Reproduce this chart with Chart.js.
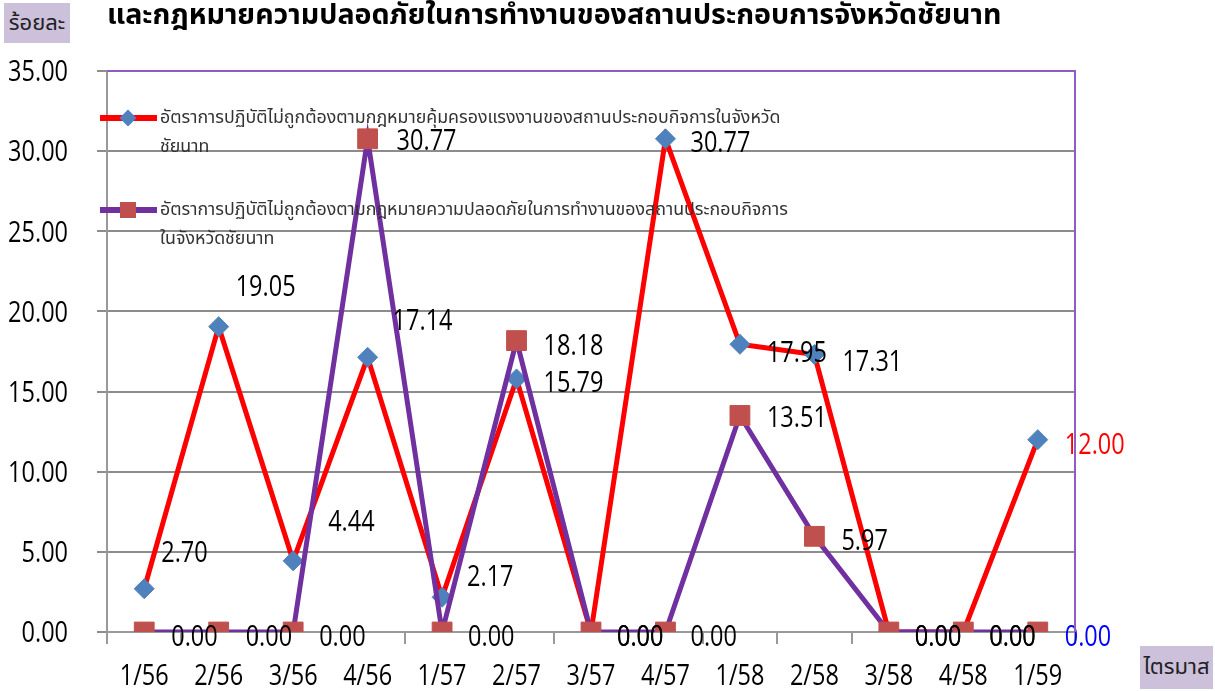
<!DOCTYPE html>
<html>
<head>
<meta charset="utf-8">
<script src="https://cdn.jsdelivr.net/npm/chart.js@4.4.0/dist/chart.umd.min.js"></script>
<style>
  body { margin: 0; background: #fff; }
  #wrap { position: relative; width: 1215px; height: 691px; overflow: hidden; font-family: "Noto Sans Thai", "Noto Sans", "DejaVu Sans", sans-serif; }
  #chart { position: absolute; left: 0; top: 0; }
  .title { position: absolute; left: 107px; top: -6px; font-size: 28.6px; font-weight: bold; color: #000; white-space: nowrap; }
  .tag { position: absolute; background: #ccc0da; color: #222; font-size: 22px; display: flex; align-items: center; justify-content: center; }
  .legend { position: absolute; left: 100px; font-size: 17.8px; color: #333; line-height: 29px; }
  .legend .item { position: relative; padding-left: 60px; margin-bottom: 34px; }
  .legend .line { position: absolute; left: 0; top: 12px; width: 57px; height: 6px; }
  .legend .mark { position: absolute; }
</style>
</head>
<body>
<div id="wrap">
  <canvas id="chart" width="1215" height="691"></canvas>
  <div class="title" id="title"></div>
  <div class="tag" id="yTag" style="left:4px;top:3px;width:66px;height:40px;"></div>
  <div class="tag" id="xTag" style="left:1140px;top:646px;width:73px;height:43px;"></div>
  <div class="legend" id="legend" style="top:103px;"></div>
</div>
<script>
// ---- data ----
const quarters = ["1/56", "2/56", "3/56", "4/56", "1/57", "2/57", "3/57", "4/57", "1/58", "2/58", "3/58", "4/58", "1/59"];
const labourRate = [2.70, 19.05, 4.44, 17.14, 2.17, 15.79, 0.00, 30.77, 17.95, 17.31, 0.00, 0.00, 12.00];
const safetyRate = [0.00, 0.00, 0.00, 30.77, 0.00, 18.18, 0.00, 0.00, 13.51, 5.97, 0.00, 0.00, 0.00];
const labourLabel = ["อัตราการปฏิบัติไม่ถูกต้องตามกฎหมายคุ้มครองแรงงานของสถานประกอบกิจการในจังหวัด", "ชัยนาท"];
const safetyLabel = ["อัตราการปฏิบัติไม่ถูกต้องตามกฎหมายความปลอดภัยในการทำงานของสถานประกอบกิจการ", "ในจังหวัดชัยนาท"];
const titleText = "และกฎหมายความปลอดภัยในการทำงานของสถานประกอบการจังหวัดชัยนาท";
const yTitle = "ร้อยละ";
const xTitle = "ไตรมาส";
const yMin = 0, yMax = 35, yStep = 5;

// ---- styles ----
const numFont = '29px "Open Sans", "Noto Sans", sans-serif';
const squeeze = 0.81; // numbers in the original are a narrow face
const red = "#ff0000", purple = "#7030a0", blue = "#4f81bd", brick = "#c0504d";

// label nudges (px from the point), per series
const labelStyle = [
  {
    dx: [17, 17, 35, 25, 25, 27, 26, 25, 27, 28, 26, 26, 27],
    dy: [-35, -39, -38, -36, -19, 5, 6, 5, 9, 8, 6, 6, 6],
    color: ["#000", "#000", "#000", "#000", "#000", "#000", "#000", "#000", "#000", "#000", "#000", "#000", red]
  },
  {
    dx: [27, 27, 26, 29, 26, 27, 26, 25, 27, 27, 26, 26, 27],
    dy: [6, 6, 6, 3, 6, 6, 6, 6, 3, 5, 6, 6, 6],
    color: ["#000", "#000", "#000", "#000", "#000", "#000", "#000", "#000", "#000", "#000", "#000", "#000", "#0000ff"]
  }
];

document.getElementById("title").textContent = titleText;
document.getElementById("yTag").textContent = yTitle;
document.getElementById("xTag").textContent = xTitle;

// html legend
const legend = document.getElementById("legend");
[[labourLabel, red, "diamond"], [safetyLabel, purple, "square"]].forEach(([lines, col, mark]) => {
  const item = document.createElement("div");
  item.className = "item";
  const ln = document.createElement("div");
  ln.className = "line";
  ln.style.background = col;
  const mk = document.createElement("div");
  mk.className = "mark";
  if (mark === "diamond") {
    mk.style.cssText = "left:22px;top:9px;width:12px;height:12px;background:" + blue + ";transform:rotate(45deg);";
  } else {
    mk.style.cssText = "left:20px;top:7px;width:16px;height:16px;background:" + brick + ";";
  }
  item.append(ln, mk);
  lines.forEach(t => {
    const d = document.createElement("div");
    d.textContent = t;
    item.append(d);
  });
  legend.append(item);
});

function narrowText(ctx, text, px, py, align) {
  ctx.save();
  ctx.translate(px, py);
  ctx.scale(squeeze, 1);
  ctx.textAlign = align;
  ctx.fillText(text, 0, 0);
  ctx.restore();
}

const plotFrame = {
  id: "plotFrame",
  afterDraw(chart) {
    const { ctx, chartArea: a } = chart;
    ctx.save();
    ctx.strokeStyle = "#8e5cc4";
    ctx.lineWidth = 2;
    ctx.beginPath();
    ctx.moveTo(a.left, a.top);
    ctx.lineTo(a.right, a.top);
    ctx.lineTo(a.right, a.bottom);
    ctx.stroke();
    ctx.restore();
  }
};

// axis numbers, drawn narrow at the scales' own tick positions
const narrowTicks = {
  id: "narrowTicks",
  afterDraw(chart) {
    const { ctx, chartArea: a, scales } = chart;
    ctx.save();
    ctx.font = numFont;
    ctx.fillStyle = "#000";
    ctx.textBaseline = "middle";
    scales.y.ticks.forEach(t => {
      narrowText(ctx, t.value.toFixed(2), a.left - 39, scales.y.getPixelForValue(t.value) + 2, "right");
    });
    scales.x.ticks.forEach((t, i) => {
      narrowText(ctx, scales.x.getLabelForValue(t.value), scales.x.getPixelForTick(i), a.bottom + 45, "center");
    });
    ctx.restore();
  }
};

const valueLabels = {
  id: "valueLabels",
  afterDatasetsDraw(chart) {
    const ctx = chart.ctx;
    ctx.save();
    ctx.font = numFont;
    ctx.textBaseline = "middle";
    chart.data.datasets.forEach((ds, di) => {
      const meta = chart.getDatasetMeta(di);
      const st = labelStyle[di];
      meta.data.forEach((pt, i) => {
        ctx.fillStyle = st.color[i];
        narrowText(ctx, ds.data[i].toFixed(2), pt.x + st.dx[i], pt.y + st.dy[i], "left");
      });
    });
    ctx.restore();
  }
};

new Chart(document.getElementById("chart"), {
  type: "line",
  data: {
    labels: quarters,
    datasets: [
      {
        label: labourLabel.join(""),
        data: labourRate,
        borderColor: red,
        borderWidth: 5,
        pointStyle: "rectRot",
        pointRadius: 10,
        pointBackgroundColor: blue,
        pointBorderColor: blue,
        pointBorderWidth: 1,
        tension: 0,
        order: 1
      },
      {
        label: safetyLabel.join(""),
        data: safetyRate,
        borderColor: purple,
        borderWidth: 5,
        pointStyle: "rect",
        pointRadius: 14,
        pointBackgroundColor: brick,
        pointBorderColor: brick,
        pointBorderWidth: 1,
        tension: 0,
        order: 0
      }
    ]
  },
  options: {
    responsive: false,
    animation: false,
    layout: { padding: { top: 71, right: 140, left: 0, bottom: 0 } },
    plugins: { legend: { display: false }, tooltip: { enabled: false } },
    scales: {
      x: {
        offset: true,
        afterFit: s => { s.height = 59; },
        grid: { offset: true, drawOnChartArea: false, drawTicks: true, tickLength: 12, color: "#999", lineWidth: 2 },
        border: { color: "#999", width: 2 },
        ticks: { color: "transparent", padding: 18, font: { size: 20 }, maxRotation: 0, autoSkip: false }
      },
      y: {
        min: yMin,
        max: yMax,
        afterFit: s => { s.width = 107; },
        grid: { color: "#8c8c8c", lineWidth: 2, tickLength: 10, drawTicks: true },
        border: { color: "#999", width: 2 },
        ticks: { stepSize: yStep, color: "transparent", padding: 29, font: { size: 20 } }
      }
    }
  },
  plugins: [plotFrame, narrowTicks, valueLabels]
});
</script>
</body>
</html>
